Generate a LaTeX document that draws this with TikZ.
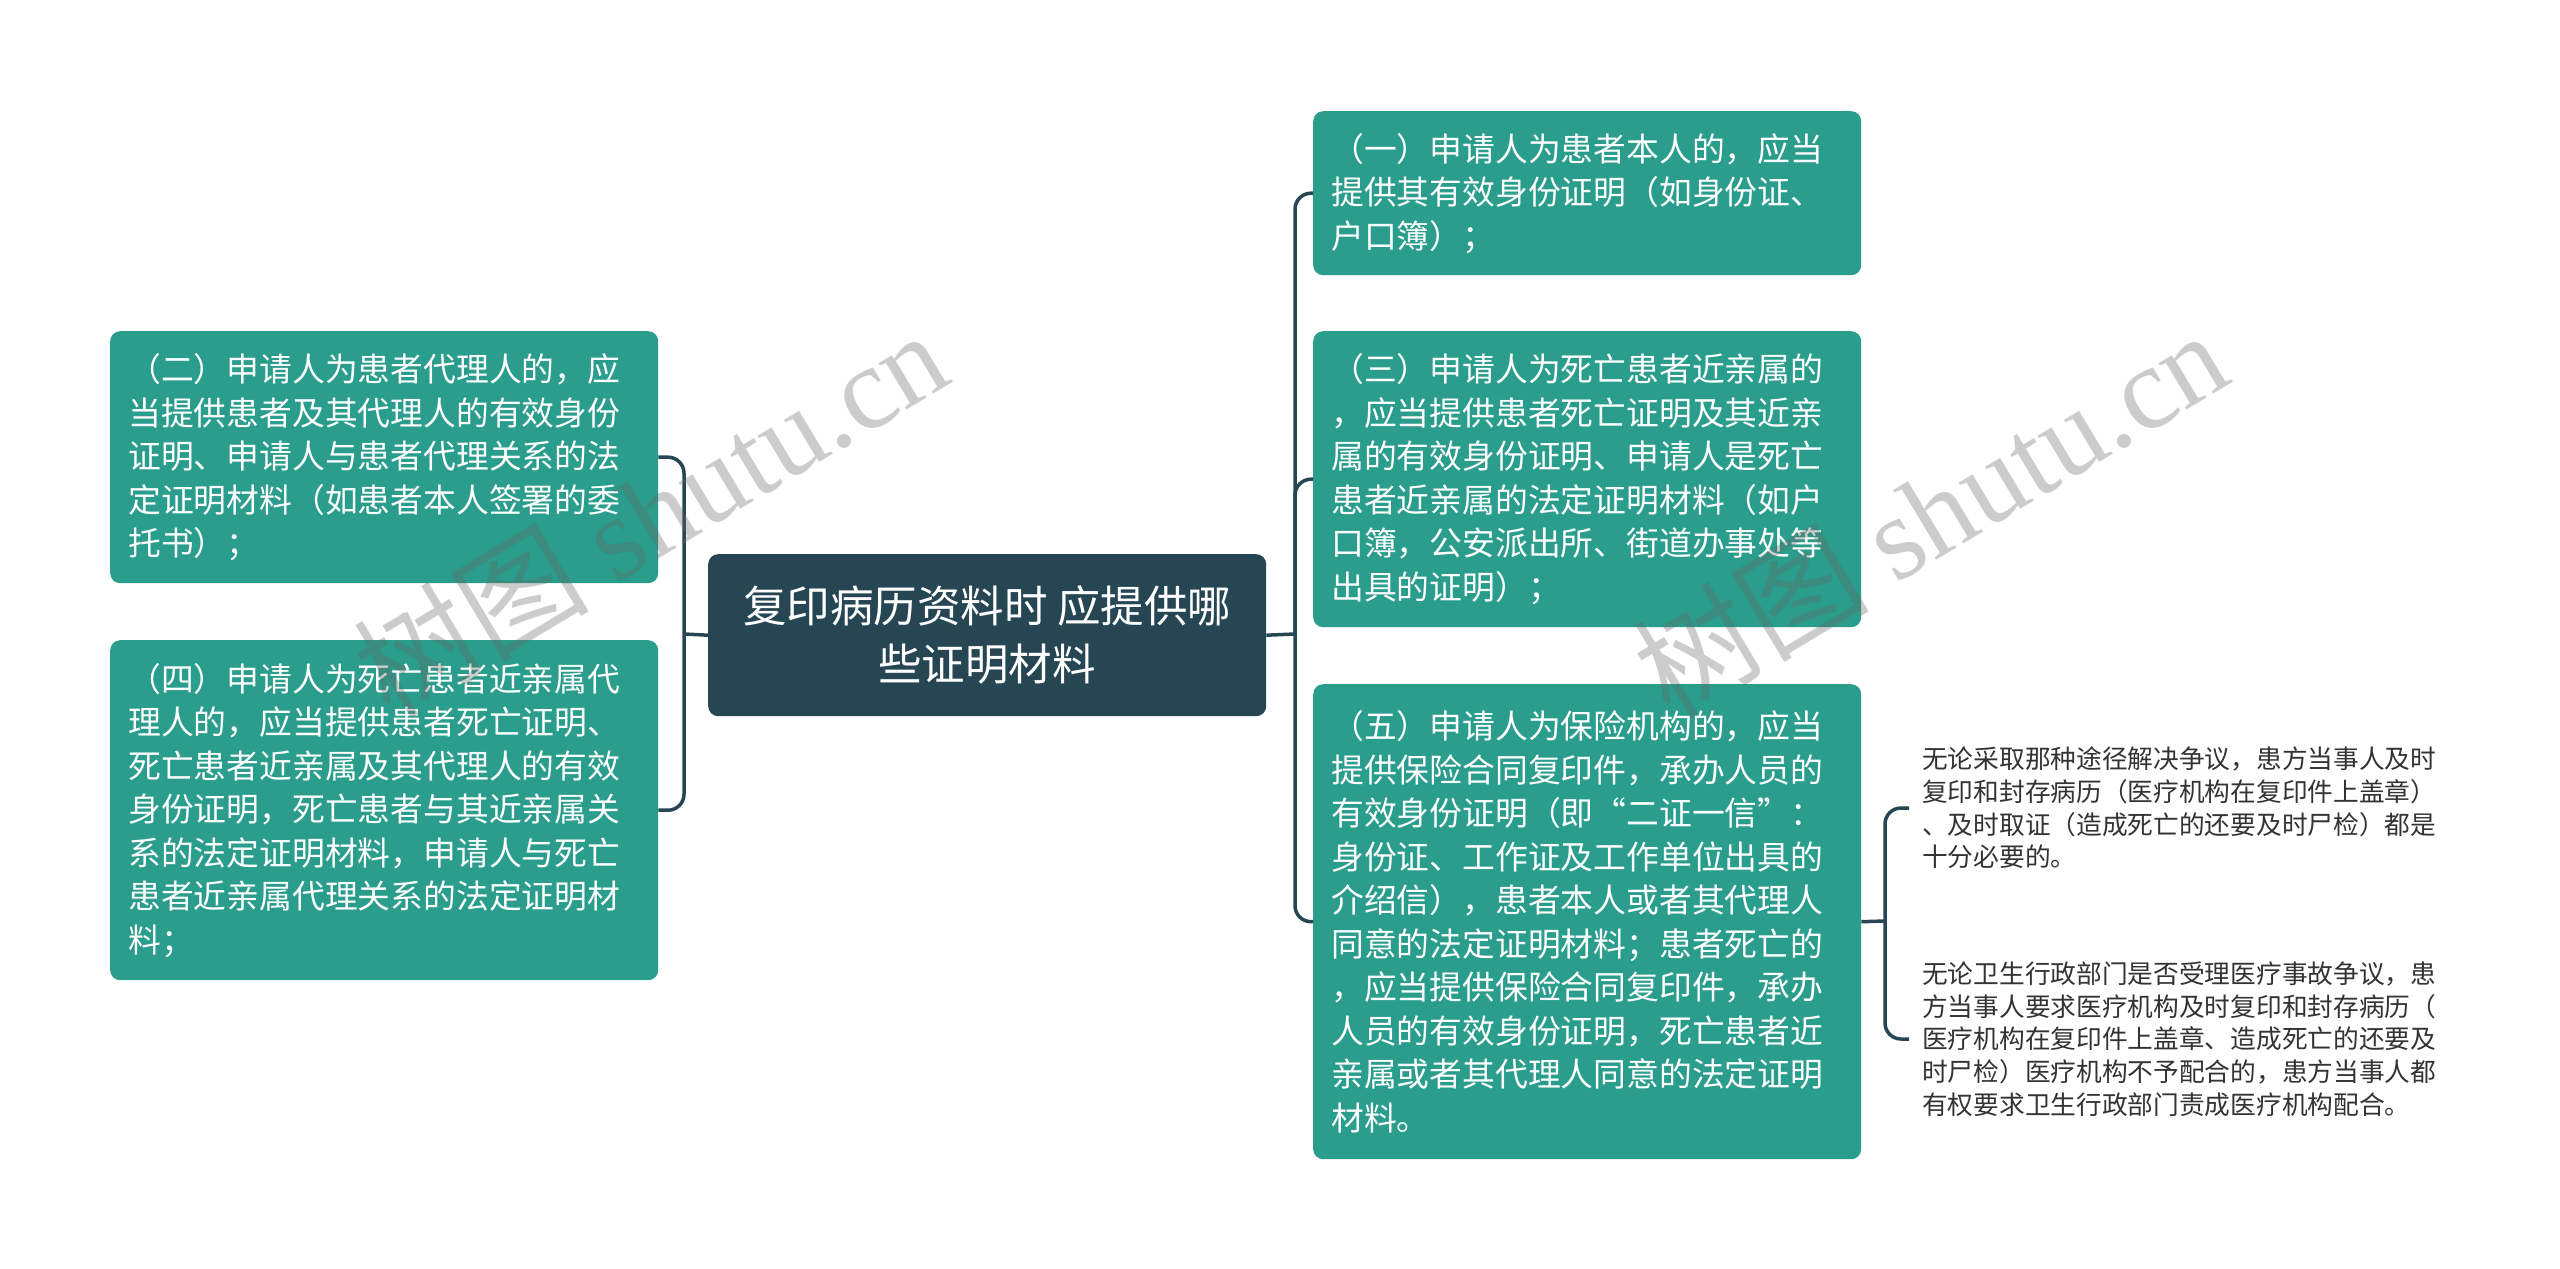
\documentclass[tikz,border=0pt]{standalone}
\usepackage{fontspec}
\newfontfamily\cjk{Noto Sans CJK SC}
\newfontfamily\wmserif{Liberation Serif}
\definecolor{tealbox}{HTML}{2A9D8C}
\definecolor{navy}{HTML}{264653}
\definecolor{leaftext}{HTML}{333333}
\begin{document}
\begin{tikzpicture}[x=1pt,y=-1pt,
  box/.style={fill=tealbox, rounded corners=10pt, text=white,
    font=\cjk\fontsize{32.8pt}{43.5pt}\selectfont, align=left,
    anchor=north west, inner xsep=18pt, inner ysep=0pt, text width=512pt},
  root/.style={fill=navy, rounded corners=10pt, text=white,
    font=\cjk\fontsize{43.5pt}{58pt}\selectfont, align=center,
    anchor=north west, inner sep=0pt, minimum width=558pt, minimum height=162pt},
  leaf/.style={text=leaftext, font=\cjk\fontsize{25.7pt}{32.7pt}\selectfont,
    align=left, anchor=west, inner xsep=13pt, inner ysep=0pt},
  conn/.style={draw=navy, line width=3.5pt, rounded corners=16pt},
  wm/.style={text=black!60, opacity=0.33, inner sep=0pt}
]
\useasboundingbox (0,0) rectangle (2560,1269);
\fill[white] (0,0) rectangle (2560,1269);

% root
\node[root] (c) at (708,554) {复印病历资料时 应提供哪\\些证明材料};

% right nodes
\node[box, minimum height=164pt] (n1) at (1313,111)
  {（一）申请人为患者本人的，应当\\提供其有效身份证明（如身份证、\\户口簿）；};
\node[box, minimum height=296pt] (n3) at (1313,331)
  {（三）申请人为死亡患者近亲属的\\，应当提供患者死亡证明及其近亲\\属的有效身份证明、申请人是死亡\\患者近亲属的法定证明材料（如户\\口簿，公安派出所、街道办事处等\\出具的证明）；};
\node[box, minimum height=475pt] (n5) at (1313,684)
  {（五）申请人为保险机构的，应当\\提供保险合同复印件，承办人员的\\有效身份证明（即“二证一信”：\\身份证、工作证及工作单位出具的\\介绍信），患者本人或者其代理人\\同意的法定证明材料；患者死亡的\\，应当提供保险合同复印件，承办\\人员的有效身份证明，死亡患者近\\亲属或者其代理人同意的法定证明\\材料。};

% left nodes
\node[box, minimum height=252pt] (n2) at (110,331)
  {（二）申请人为患者代理人的，应\\当提供患者及其代理人的有效身份\\证明、申请人与患者代理关系的法\\定证明材料（如患者本人签署的委\\托书）；};
\node[box, minimum height=340pt] (n4) at (110,640)
  {（四）申请人为死亡患者近亲属代\\理人的，应当提供患者死亡证明、\\死亡患者近亲属及其代理人的有效\\身份证明，死亡患者与其近亲属关\\系的法定证明材料，申请人与死亡\\患者近亲属代理关系的法定证明材\\料；};

% leaves
\node[leaf] (l1) at (1909,808)
  {无论采取那种途径解决争议，患方当事人及时\\复印和封存病历（医疗机构在复印件上盖章）\\、及时取证（造成死亡的还要及时尸检）都是\\十分必要的。};
\node[leaf] (l2) at (1909,1039)
  {无论卫生行政部门是否受理医疗事故争议，患\\方当事人要求医疗机构及时复印和封存病历（\\医疗机构在复印件上盖章、造成死亡的还要及\\时尸检）医疗机构不予配合的，患方当事人都\\有权要求卫生行政部门责成医疗机构配合。};

% junctions
\coordinate (rj) at (1295,634);
\coordinate (lj) at (684,634);
\coordinate (bj) at (1885,921);

\draw[conn] (c.east) -- (rj);
\draw[conn] (rj) |- (n1.west);
\draw[conn] (rj) |- (n3.west);
\draw[conn] (rj) |- (n5.west);
\draw[conn] (c.west) -- (lj);
\draw[conn] (lj) |- (n2.east);
\draw[conn] (lj) |- (n4.east);
\draw[conn] (n5.east) -- (bj);
\draw[conn] (bj) |- (l1.west);
\draw[conn] (bj) |- (l2.west);

% watermarks
\node[wm, rotate=31] (wm1) at (650,512) {\cjk\fontsize{118pt}{118pt}\selectfont 树图 \wmserif shutu.cn};
\node[wm, rotate=31] (wm2) at (1930,512) {\cjk\fontsize{118pt}{118pt}\selectfont 树图 \wmserif shutu.cn};
\end{tikzpicture}
\end{document}
